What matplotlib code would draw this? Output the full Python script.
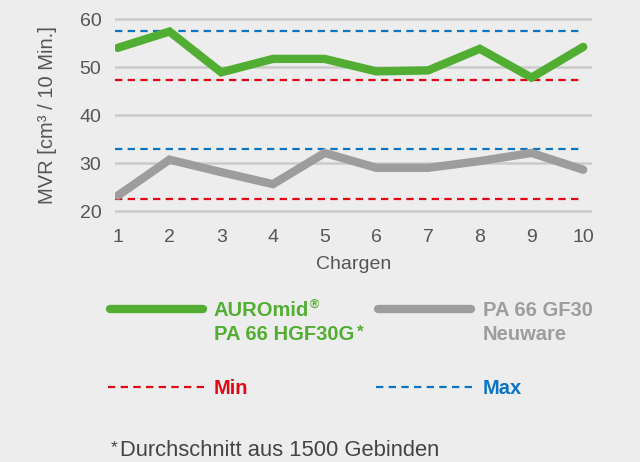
import matplotlib.pyplot as plt
from matplotlib.lines import Line2D

chargen = [1, 2, 3, 4, 5, 6, 7, 8, 9, 10]
auromid = [54.0, 57.4, 48.9, 51.7, 51.7, 49.1, 49.3, 53.8, 47.8, 54.2]
pa66_neu = [23.2, 30.7, 28.1, 25.6, 32.1, 29.0, 29.0, 30.4, 32.1, 28.6]
min_vals = [47.3, 22.5]
max_vals = [57.6, 33.0]
yticks = [20, 30, 40, 50, 60]

bg = '#ededed'
green = '#52ae32'
grey = '#9d9d9d'
red = '#e30613'
blue = '#0a75c2'
txt = '#555555'

plt.rcParams['font.family'] = ['Liberation Sans', 'DejaVu Sans']

fig = plt.figure(figsize=(6.4, 4.62), dpi=100, facecolor=bg)
ax = fig.add_axes([0.18, 0.5225, 0.745, 0.457])
ax.set_facecolor(bg)
ax.set_xlim(0.95, 10.17)
ax.set_ylim(18, 62)

for y in yticks:
    ax.axhline(y, color='#cbcbcb', lw=1.8, zorder=1)
for v in min_vals:
    ax.axhline(v, xmin=0.0, xmax=0.975, color=red, lw=1.6, dashes=(3.3, 2.4), zorder=2)
for v in max_vals:
    ax.axhline(v, xmin=0.0, xmax=0.975, color=blue, lw=1.6, dashes=(3.3, 2.4), zorder=2)

ax.plot(chargen, auromid, color=green, lw=6, solid_joinstyle='miter', solid_capstyle='round', zorder=3)
ax.plot(chargen, pa66_neu, color=grey, lw=6, solid_joinstyle='miter', solid_capstyle='round', zorder=3)

ax.set_yticks(yticks)
ax.set_xticks(chargen)
for s in ax.spines.values():
    s.set_visible(False)
ax.tick_params(length=0, labelsize=14, labelcolor=txt)
ax.tick_params(axis='y', pad=10)
ax.tick_params(axis='x', pad=6)
ax.set_xlabel('Chargen', fontsize=14, color=txt, labelpad=7)
ax.set_ylabel('MVR [cm³ / 10 Min.]', fontsize=14.5, color=txt, labelpad=16)

# legend drawn in pixel coordinates
lg = fig.add_axes([0, 0, 1, 1])
lg.set_xlim(0, 640)
lg.set_ylim(462, 0)
lg.axis('off')
renderer = fig.canvas.get_renderer()


def text_sup(x, y, main, sup, gap=1, scale=0.62, dy=6, **kw):
    t = lg.text(x, y, main, va='center', **kw)
    bb = t.get_window_extent(renderer)
    x_end = lg.transData.inverted().transform((bb.x1, 0))[0]
    kw2 = dict(kw)
    kw2['fontsize'] = kw['fontsize'] * scale
    lg.text(x_end + gap, y - dy, sup, va='center', **kw2)


lg.add_line(Line2D([110, 203], [309, 309], color=green, lw=6, solid_capstyle='round'))
lg.add_line(Line2D([378, 471], [309, 309], color=grey, lw=6, solid_capstyle='round'))
lg.add_line(Line2D([108, 205], [387, 387], color=red, lw=1.6, dashes=(3.3, 2.4)))
lg.add_line(Line2D([376, 473], [387, 387], color=blue, lw=1.6, dashes=(3.3, 2.4)))
bold = dict(fontsize=14.5, fontweight='bold')
text_sup(214, 311, 'AUROmid', '®', gap=0.5, color=green, **bold)
text_sup(214, 335, 'PA 66 HGF30G', '*', gap=3, scale=0.85, dy=3, color=green, **bold)
lg.text(483, 311, 'PA 66 GF30', color=grey, va='center', **bold)
lg.text(483, 335, 'Neuware', color=grey, va='center', **bold)
lg.text(214, 388, 'Min', color=red, va='center', **bold)
lg.text(483, 388, 'Max', color=blue, va='center', **bold)
lg.text(111, 448, '*', color='#444444', fontsize=12.5, va='center')
lg.text(120, 451, 'Durchschnitt aus 1500 Gebinden', color='#444444', fontsize=15.8, va='center')

fig.savefig('out.png', dpi=100, facecolor=bg)
